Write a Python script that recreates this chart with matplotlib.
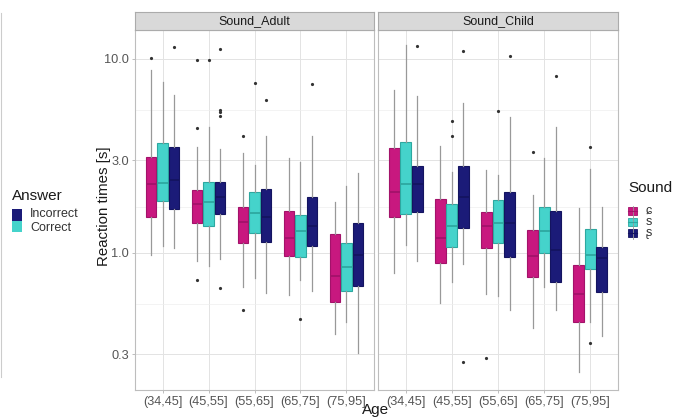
import matplotlib
matplotlib.use('Agg')
import matplotlib.pyplot as plt
from matplotlib.patches import Rectangle
from matplotlib.lines import Line2D
from matplotlib.ticker import FixedLocator, NullFormatter
import numpy as np

plt.rcParams['font.family'] = ['Liberation Sans', 'DejaVu Sans']

# ---------------- data ----------------
ages = ['(34,45]', '(45,55]', '(55,65]', '(65,75]', '(75,95]']
sounds = ['ɕ', 's', 'ʂ']
panels = ['Sound_Adult', 'Sound_Child']
answers = ['Incorrect', 'Correct']
y_ticks = [0.3, 1.0, 3.0, 10.0]
y_tick_labels = ['0.3', '1.0', '3.0', '10.0']

# Sound_Adult
adult_c_q1 = [1.54, 1.43, 1.12, 0.96, 0.557]
adult_c_med = [2.27, 1.79, 1.45, 1.20, 0.76]
adult_c_q3 = [3.11, 2.10, 1.73, 1.65, 1.25]
adult_c_lo = [0.97, 0.91, 0.67, 0.61, 0.38]
adult_c_hi = [8.77, 3.53, 3.29, 3.10, 1.84]
adult_c_out = [[10.1], [9.9, 4.39, 0.726], [3.98, 0.51], [], []]

adult_s_q1 = [1.86, 1.38, 1.27, 0.95, 0.64]
adult_s_med = [2.30, 1.82, 1.61, 1.30, 0.85]
adult_s_q3 = [3.68, 2.32, 2.07, 1.56, 1.12]
adult_s_lo = [1.09, 0.857, 0.74, 0.726, 0.44]
adult_s_hi = [7.64, 4.44, 2.84, 2.93, 2.20]
adult_s_out = [[], [9.88], [7.55], [0.455], []]

adult_r_q1 = [1.69, 1.59, 1.14, 1.09, 0.676]
adult_r_med = [2.38, 1.94, 1.53, 1.38, 0.977]
adult_r_q3 = [3.53, 2.33, 2.14, 1.93, 1.42]
adult_r_lo = [1.06, 0.93, 0.62, 0.637, 0.304]
adult_r_hi = [6.52, 3.42, 3.98, 4.01, 2.58]
adult_r_out = [[11.5], [11.2, 5.46, 5.34, 5.08, 0.658], [6.15], [7.41], []]

# Sound_Child
child_c_q1 = [1.54, 0.89, 1.06, 0.75, 0.443]
child_c_med = [2.07, 1.20, 1.37, 0.965, 0.615]
child_c_q3 = [3.46, 1.90, 1.63, 1.32, 0.867]
child_c_lo = [0.79, 0.555, 0.615, 0.409, 0.244]
child_c_hi = [6.92, 3.56, 2.68, 1.99, 1.70]
child_c_out = [[], [], [0.287], [3.33], []]

child_s_q1 = [1.59, 1.07, 1.12, 1.00, 0.827]
child_s_med = [2.27, 1.38, 1.43, 1.29, 0.97]
child_s_q3 = [3.75, 1.79, 1.88, 1.72, 1.33]
child_s_lo = [1.10, 0.706, 0.60, 0.67, 0.44]
child_s_hi = [11.8, 2.62, 2.52, 3.10, 2.70]
child_s_out = [[], [4.79, 4.01], [5.41], [], [3.53, 0.343]]

child_r_q1 = [1.63, 1.34, 0.95, 0.711, 0.627]
child_r_med = [2.27, 1.94, 1.42, 1.036, 0.939]
child_r_q3 = [2.82, 2.81, 2.06, 1.65, 1.07]
child_r_lo = [0.91, 0.877, 0.51, 0.51, 0.371]
child_r_hi = [6.45, 5.91, 5.01, 4.48, 1.72]
child_r_out = [[11.7], [11.0, 0.275], [10.4], [8.11], []]

# ---------------- style ----------------
fill_colors = ['#C8187F', '#45D3CB', '#1B1B78']
edge_colors = ['#A3126A', '#2DA8A0', '#141460']
whisker_color = '#999999'
answer_colors = ['#1B1B78', '#45D3CB']

W, H = 677, 417
fig = plt.figure(figsize=(W / 100, H / 100), dpi=100)


def fx(px):
    return px / W


def fy(py):
    return 1 - py / H


panel_x = [(135, 374), (378, 618)]
panel_top, panel_bot = 30, 390
strip_top = 11.5


def make_stats(q1, med, q3, lo, hi, out):
    return [dict(q1=q1[i], med=med[i], q3=q3[i], whislo=lo[i], whishi=hi[i],
                 fliers=out[i]) for i in range(len(q1))]


panel_data = [
    [make_stats(adult_c_q1, adult_c_med, adult_c_q3, adult_c_lo, adult_c_hi, adult_c_out),
     make_stats(adult_s_q1, adult_s_med, adult_s_q3, adult_s_lo, adult_s_hi, adult_s_out),
     make_stats(adult_r_q1, adult_r_med, adult_r_q3, adult_r_lo, adult_r_hi, adult_r_out)],
    [make_stats(child_c_q1, child_c_med, child_c_q3, child_c_lo, child_c_hi, child_c_out),
     make_stats(child_s_q1, child_s_med, child_s_q3, child_s_lo, child_s_hi, child_s_out),
     make_stats(child_r_q1, child_r_med, child_r_q3, child_r_lo, child_r_hi, child_r_out)],
]

border_color = '#bdbdbd'
x_base = np.arange(1, len(ages) + 1)
minor_ticks = [np.sqrt(y_ticks[i] * y_ticks[i + 1]) for i in range(len(y_ticks) - 1)]

for p, (x0, x1) in enumerate(panel_x):
    ax = fig.add_axes([fx(x0), fy(panel_bot), fx(x1 - x0), (panel_bot - panel_top) / H])
    ax.set_yscale('log')
    ax.set_xlim(0.4, 5.6)
    ax.set_ylim(0.1966, 14.08)
    ax.set_axisbelow(True)
    for k in range(3):
        pos = x_base + (k - 1) * 0.25
        ax.bxp(panel_data[p][k], positions=pos, widths=0.235, patch_artist=True,
               showcaps=False, manage_ticks=False,
               boxprops=dict(facecolor=fill_colors[k], edgecolor=edge_colors[k], linewidth=0.8),
               medianprops=dict(color=edge_colors[k], linewidth=1.3),
               whiskerprops=dict(color=whisker_color, linewidth=0.9),
               flierprops=dict(marker='o', markersize=2.3, markerfacecolor='#333333',
                               markeredgecolor='none'))
    ax.set_xticks(x_base)
    ax.set_xticklabels(ages)
    ax.yaxis.set_major_locator(FixedLocator(y_ticks))
    ax.yaxis.set_minor_locator(FixedLocator(minor_ticks))
    ax.yaxis.set_minor_formatter(NullFormatter())
    ax.grid(True, which='major', color='#e3e3e3', linewidth=0.7)
    ax.grid(True, which='minor', axis='y', color='#eeeeee', linewidth=0.5)
    ax.tick_params(which='minor', length=0)
    ax.tick_params(which='major', length=2.2, width=0.6, color='#b3b3b3',
                   labelcolor='#555555', labelsize=9.2, pad=2)
    if p == 0:
        ax.set_yticklabels(y_tick_labels)
    else:
        ax.tick_params(axis='y', which='both', left=False, labelleft=False)
    for s in ax.spines.values():
        s.set_color(border_color)
        s.set_linewidth(0.8)

    # strip
    sax = fig.add_axes([fx(x0), fy(panel_top), fx(x1 - x0), (panel_top - strip_top) / H])
    sax.set_facecolor('#d9d9d9')
    sax.set_xticks([])
    sax.set_yticks([])
    for s in sax.spines.values():
        s.set_color('#ababab')
        s.set_linewidth(0.8)
    sax.text(0.5, 0.47, panels[p], ha='center', va='center', fontsize=9,
             color='#1a1a1a', transform=sax.transAxes)

# axis titles
fig.text(fx(104), fy(206), 'Reaction times [s]', rotation=90, ha='center', va='center',
         fontsize=10.8, color='#1a1a1a')
fig.text(fx(376), fy(403), 'Age', ha='center', va='top', fontsize=11, color='#1a1a1a')

# Answer legend
fig.text(fx(12), fy(196), 'Answer', ha='left', va='center', fontsize=11, color='#1a1a1a')
for i, lab in enumerate(answers):
    ytop = 209 + i * 11.5
    fig.patches.append(Rectangle((fx(12), fy(ytop + 11.5)), fx(10), 11.5 / H,
                                 facecolor=answer_colors[i], edgecolor='none',
                                 transform=fig.transFigure))
    fig.text(fx(30), fy(209 + 5 + i * 13.5), lab, ha='left', va='center', fontsize=9,
             color='#333333')

# Sound legend
fig.text(fx(628), fy(188), 'Sound', ha='left', va='center', fontsize=11, color='#1a1a1a')
for i, lab in enumerate(sounds):
    yc = 211 + i * 11
    fig.lines.append(Line2D([fx(632.5), fx(632.5)], [fy(yc - 5.5), fy(yc + 5.5)],
                            color=whisker_color, linewidth=0.6, transform=fig.transFigure))
    fig.patches.append(Rectangle((fx(628.3), fy(yc + 4)), fx(8.5), 8 / H,
                                 facecolor=fill_colors[i], edgecolor=edge_colors[i],
                                 linewidth=0.6, transform=fig.transFigure))
    fig.lines.append(Line2D([fx(628.3), fx(636.8)], [fy(yc), fy(yc)],
                            color=edge_colors[i], linewidth=0.8, transform=fig.transFigure))
    fig.text(fx(646), fy(yc), lab, ha='left', va='center', fontsize=9, color='#333333')

# thin frame line on the far left
fig.lines.append(Line2D([fx(1.2), fx(1.2)], [fy(13), fy(377)], color='#cccccc',
                        linewidth=0.8, transform=fig.transFigure))

fig.savefig('out.png', dpi=100)
